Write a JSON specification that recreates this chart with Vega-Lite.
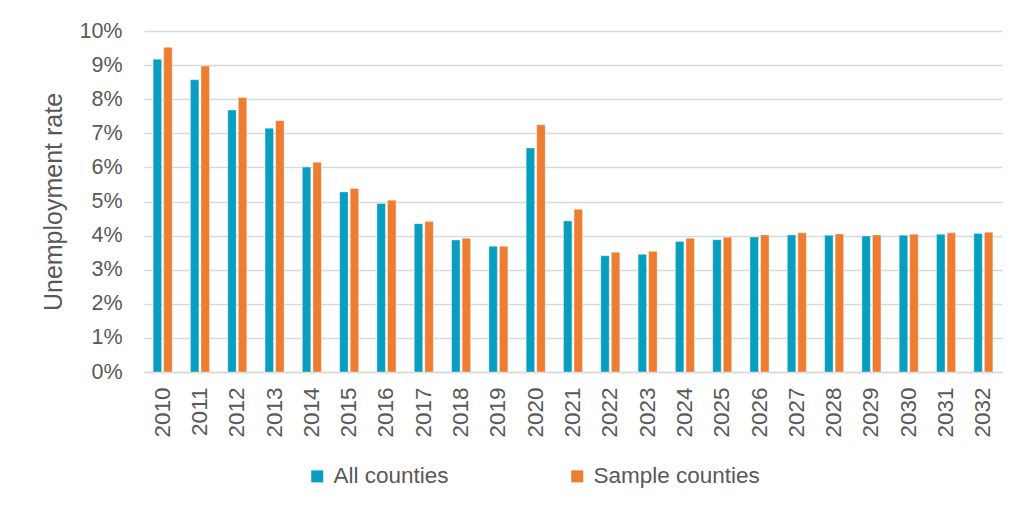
{
  "$schema": "https://vega.github.io/schema/vega-lite/v6.json",
  "width": 858,
  "height": 341,
  "autosize": {"type": "none"},
  "padding": {"left": 144, "top": 31, "right": 29, "bottom": 142},
  "background": "white",
  "config": {
    "font": "Liberation Sans",
    "view": {"stroke": null},
    "axis": {"labelColor": "#595959", "titleColor": "#595959", "labelFont": "Liberation Sans", "titleFont": "Liberation Sans"},
    "legend": {"labelColor": "#595959", "labelFont": "Liberation Sans"}
  },
  "data": {
    "values": [
      {"year": "2010", "series": "All counties", "rate": 0.0917}, {"year": "2010", "series": "Sample counties", "rate": 0.0952},
      {"year": "2011", "series": "All counties", "rate": 0.0857}, {"year": "2011", "series": "Sample counties", "rate": 0.0897},
      {"year": "2012", "series": "All counties", "rate": 0.0768}, {"year": "2012", "series": "Sample counties", "rate": 0.0805},
      {"year": "2013", "series": "All counties", "rate": 0.0715}, {"year": "2013", "series": "Sample counties", "rate": 0.0737},
      {"year": "2014", "series": "All counties", "rate": 0.0601}, {"year": "2014", "series": "Sample counties", "rate": 0.0615},
      {"year": "2015", "series": "All counties", "rate": 0.0528}, {"year": "2015", "series": "Sample counties", "rate": 0.0538},
      {"year": "2016", "series": "All counties", "rate": 0.0494}, {"year": "2016", "series": "Sample counties", "rate": 0.0504},
      {"year": "2017", "series": "All counties", "rate": 0.0435}, {"year": "2017", "series": "Sample counties", "rate": 0.0441},
      {"year": "2018", "series": "All counties", "rate": 0.0387}, {"year": "2018", "series": "Sample counties", "rate": 0.0392},
      {"year": "2019", "series": "All counties", "rate": 0.0369}, {"year": "2019", "series": "Sample counties", "rate": 0.0369},
      {"year": "2020", "series": "All counties", "rate": 0.0657}, {"year": "2020", "series": "Sample counties", "rate": 0.0725},
      {"year": "2021", "series": "All counties", "rate": 0.0443}, {"year": "2021", "series": "Sample counties", "rate": 0.0477},
      {"year": "2022", "series": "All counties", "rate": 0.0341}, {"year": "2022", "series": "Sample counties", "rate": 0.0351},
      {"year": "2023", "series": "All counties", "rate": 0.0345}, {"year": "2023", "series": "Sample counties", "rate": 0.0354},
      {"year": "2024", "series": "All counties", "rate": 0.0383}, {"year": "2024", "series": "Sample counties", "rate": 0.0392},
      {"year": "2025", "series": "All counties", "rate": 0.0388}, {"year": "2025", "series": "Sample counties", "rate": 0.0395},
      {"year": "2026", "series": "All counties", "rate": 0.0396}, {"year": "2026", "series": "Sample counties", "rate": 0.0402},
      {"year": "2027", "series": "All counties", "rate": 0.0402}, {"year": "2027", "series": "Sample counties", "rate": 0.0408},
      {"year": "2028", "series": "All counties", "rate": 0.0401}, {"year": "2028", "series": "Sample counties", "rate": 0.0405},
      {"year": "2029", "series": "All counties", "rate": 0.0399}, {"year": "2029", "series": "Sample counties", "rate": 0.0402},
      {"year": "2030", "series": "All counties", "rate": 0.0401}, {"year": "2030", "series": "Sample counties", "rate": 0.0404},
      {"year": "2031", "series": "All counties", "rate": 0.0404}, {"year": "2031", "series": "Sample counties", "rate": 0.0408},
      {"year": "2032", "series": "All counties", "rate": 0.0406}, {"year": "2032", "series": "Sample counties", "rate": 0.0410}
    ]
  },
  "mark": {"type": "bar", "stroke": "#FFFFFF", "strokeWidth": 0.6, "strokeOpacity": 0.6},
  "encoding": {
    "x": {
      "field": "year", "type": "nominal", "sort": null,
      "scale": {"paddingInner": 0.49, "paddingOuter": 0.245},
      "axis": {
        "title": null, "labelAngle": -90, "labelFontSize": 22.5, "labelPadding": 15,
        "ticks": false, "domainColor": "#D9D9D9", "domainWidth": 1.5, "grid": false
      }
    },
    "xOffset": {"field": "series", "type": "nominal", "scale": {"paddingInner": 0.2}},
    "y": {
      "field": "rate", "type": "quantitative",
      "scale": {"domain": [0, 0.1], "nice": false},
      "axis": {
        "title": "Unemployment rate", "titleFontSize": 25, "titleFontWeight": "normal", "titlePadding": 12,
        "format": ".0%", "values": [0, 0.01, 0.02, 0.03, 0.04, 0.05, 0.06, 0.07, 0.08, 0.09, 0.1],
        "labelFontSize": 21.5, "labelPadding": 22, "ticks": false, "domain": false,
        "gridColor": "#D9D9D9", "gridWidth": 1.5
      }
    },
    "color": {
      "field": "series", "type": "nominal",
      "scale": {"domain": ["All counties", "Sample counties"], "range": ["#079EC0", "#ED7D31"]},
      "legend": {
        "title": null, "orient": "none", "legendX": 162, "legendY": 434, "direction": "horizontal",
        "symbolType": "square", "symbolSize": 144, "symbolStrokeWidth": 0, "labelFontSize": 22.5,
        "labelOffset": 5, "columnPadding": 117, "labelLimit": 400
      }
    }
  }
}
